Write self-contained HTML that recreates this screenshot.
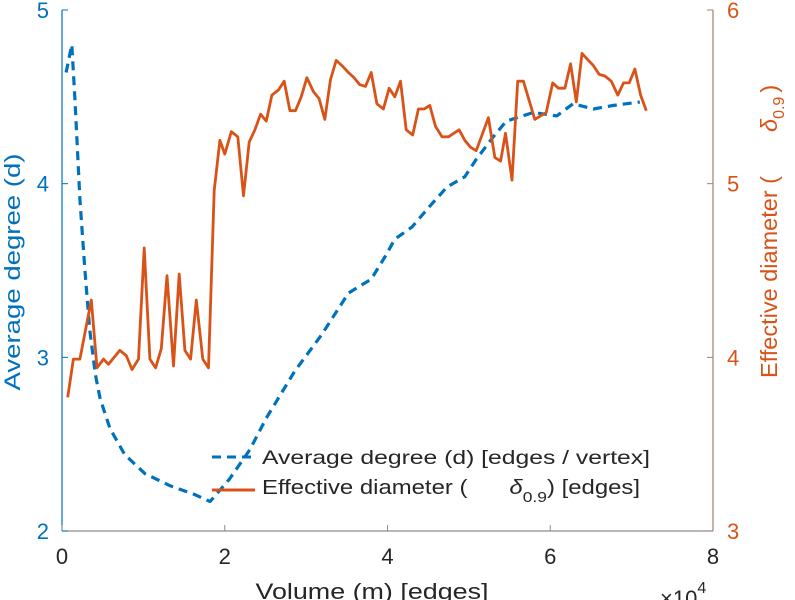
<!DOCTYPE html>
<html><head><meta charset="utf-8"><style>
html,body{margin:0;padding:0;background:#fff;}
svg{display:block;font-family:"Liberation Sans",sans-serif;}
</style></head><body>
<svg id="chart" width="795" height="600" viewBox="0 0 795 600" xmlns="http://www.w3.org/2000/svg">
<g id="axes"></g>
<g id="series"></g>
<g id="legend">
  <line x1="212" y1="457" x2="255" y2="457" stroke="#0072BD" stroke-width="3" stroke-dasharray="9,6"/>
  <text x="262" y="464" font-size="19" fill="#262626" textLength="388" lengthAdjust="spacingAndGlyphs">Average degree (d) [edges / vertex]</text>
  <line x1="212" y1="490" x2="255" y2="490" stroke="#D95319" stroke-width="3"/>
  <text x="262" y="494" font-size="20.5" fill="#262626" textLength="378" lengthAdjust="spacingAndGlyphs">Effective diameter (<tspan dx="36" font-style="italic">δ</tspan><tspan font-size="15" dy="8">0.9</tspan><tspan dy="-8">) [edges]</tspan></text>
</g>
</svg>
<script>
const xTicks = [0, 2, 4, 6, 8];
const leftTicks = [2, 3, 4, 5];
const rightTicks = [3, 4, 5, 6];
const degX = [0.05,0.12,0.16,0.22,0.28,0.34,0.41,0.47,0.59,0.77,1.02,1.33,1.63,1.82,2.06,2.31,2.51,2.86,3.19,3.52,3.80,3.97,4.09,4.30,4.52,4.73,4.95,5.09,5.30,5.46,5.79,6.08,6.28,6.53,6.77,7.10];
const degY = [4.64,4.80,4.48,3.91,3.51,3.16,2.90,2.76,2.59,2.44,2.33,2.26,2.21,2.17,2.30,2.47,2.65,2.92,3.13,3.37,3.45,3.58,3.68,3.75,3.87,3.98,4.04,4.14,4.27,4.36,4.41,4.39,4.46,4.43,4.45,4.47];
const diaX = [0.07,0.14,0.22,0.36,0.43,0.51,0.57,0.71,0.79,0.86,0.94,1.01,1.08,1.15,1.22,1.29,1.37,1.44,1.51,1.58,1.65,1.73,1.80,1.87,1.94,2.00,2.08,2.16,2.23,2.30,2.37,2.44,2.51,2.58,2.66,2.73,2.80,2.87,2.94,3.01,3.09,3.16,3.23,3.30,3.37,3.44,3.52,3.59,3.66,3.73,3.80,3.87,3.95,4.02,4.09,4.16,4.23,4.31,4.38,4.45,4.52,4.59,4.67,4.75,4.88,4.95,5.02,5.09,5.24,5.32,5.39,5.45,5.53,5.60,5.67,5.74,5.81,5.88,5.95,6.03,6.10,6.18,6.25,6.32,6.39,6.47,6.53,6.60,6.67,6.75,6.83,6.90,6.97,7.04,7.11,7.18];
const diaY = [3.77,3.99,3.99,4.33,3.94,3.99,3.96,4.04,4.01,3.93,3.99,4.63,3.99,3.94,4.05,4.47,3.95,4.48,4.04,3.99,4.33,3.99,3.94,4.96,5.25,5.17,5.30,5.27,4.93,5.24,5.31,5.40,5.36,5.51,5.54,5.59,5.42,5.42,5.50,5.61,5.53,5.49,5.37,5.60,5.71,5.68,5.64,5.61,5.57,5.56,5.64,5.46,5.43,5.55,5.50,5.59,5.31,5.28,5.43,5.43,5.45,5.33,5.27,5.27,5.31,5.25,5.21,5.19,5.38,5.15,5.13,5.29,5.02,5.59,5.59,5.48,5.37,5.39,5.41,5.58,5.55,5.55,5.69,5.47,5.75,5.71,5.68,5.63,5.62,5.59,5.51,5.58,5.58,5.66,5.51,5.42];

const NS = 'http://www.w3.org/2000/svg';
const L = 62, R = 713, T = 10, B = 531;
function sx(v){ return L + (v - 0) / 8 * (R - L); }
function syL(v){ return B - (v - 2) / 3 * (B - T); }
function syR(v){ return B - (v - 3) / 3 * (B - T); }
function mk(tag, attrs, parent){ const e = document.createElementNS(NS, tag); for (const k in attrs) e.setAttribute(k, attrs[k]); parent.appendChild(e); return e; }

const axes = document.getElementById('axes');
const series = document.getElementById('series');

let e = mk('line', {x1:L, y1:B, x2:R, y2:B, stroke:'#8c8c8c', 'stroke-width':1.2}, axes);


e = mk('line', {x1:L, y1:T, x2:L, y2:B, stroke:'#0072BD', 'stroke-width':1.2}, axes);


e = mk('line', {x1:R, y1:T, x2:R, y2:B, stroke:'#a08070', 'stroke-width':1.2}, axes);



xTicks.forEach(v => {
  const x = sx(v);
  let t = mk('line', {x1:x, y1:B, x2:x, y2:B-6, stroke:'#8c8c8c', 'stroke-width':1}, axes);
  
  
  let l = mk('text', {x:x, y:B+33, 'text-anchor':'middle', 'font-size':22, fill:'#262626'}, axes);
  l.textContent = v;
  
  
});
leftTicks.forEach(v => {
  const y = syL(v);
  let t = mk('line', {x1:L, y1:y, x2:L+6, y2:y, stroke:'#0072BD', 'stroke-width':1}, axes);
  
  
  let l = mk('text', {x:L-13, y:y+8, 'text-anchor':'end', 'font-size':22, fill:'#0072BD'}, axes);
  l.textContent = v;
  
  
});
rightTicks.forEach(v => {
  const y = syR(v);
  let t = mk('line', {x1:R, y1:y, x2:R-6, y2:y, stroke:'#a08070', 'stroke-width':1}, axes);
  
  
  let l = mk('text', {x:R+14, y:y+8, 'text-anchor':'start', 'font-size':22, fill:'#D95319'}, axes);
  l.textContent = v;
  
  
});

e = mk('text', {x:372, y:599, 'text-anchor':'middle', 'font-size':22, fill:'#262626', textLength:233, lengthAdjust:'spacingAndGlyphs'}, axes);
e.textContent = 'Volume (m) [edges]';


e = mk('text', {x:660, y:606, 'font-size':22, fill:'#262626'}, axes);
e.innerHTML = '×10<tspan font-size="16" dy="-13">4</tspan>';


e = mk('text', {x:0, y:0, 'text-anchor':'middle', 'font-size':22, fill:'#0072BD', transform:'translate(20,272) rotate(-90)', textLength:237, lengthAdjust:'spacingAndGlyphs'}, axes);
e.textContent = 'Average degree (d)';


e = mk('text', {x:0, y:0, 'text-anchor':'start', 'font-size':23.5, fill:'#D95319', transform:'translate(777,378) rotate(-90)'}, axes);
e.innerHTML = 'Effective diameter (<tspan dx="44" font-style="italic">δ</tspan><tspan font-size="16" dy="7">0.9</tspan><tspan dy="-7" dx="4">)</tspan>';



let d1 = degX.map((x,i) => (i?'L':'M') + sx(x).toFixed(1) + ',' + syL(degY[i]).toFixed(1)).join(' ');
e = mk('path', {d:d1, fill:'none', stroke:'#0072BD', 'stroke-width':3.2, 'stroke-dasharray':'9,6', 'stroke-linejoin':'round'}, series);


let d2 = diaX.map((x,i) => (i?'L':'M') + sx(x).toFixed(1) + ',' + syR(diaY[i]).toFixed(1)).join(' ');
e = mk('path', {d:d2, fill:'none', stroke:'#D95319', 'stroke-width':2.8, 'stroke-linejoin':'round'}, series);


</script>
</body></html>
